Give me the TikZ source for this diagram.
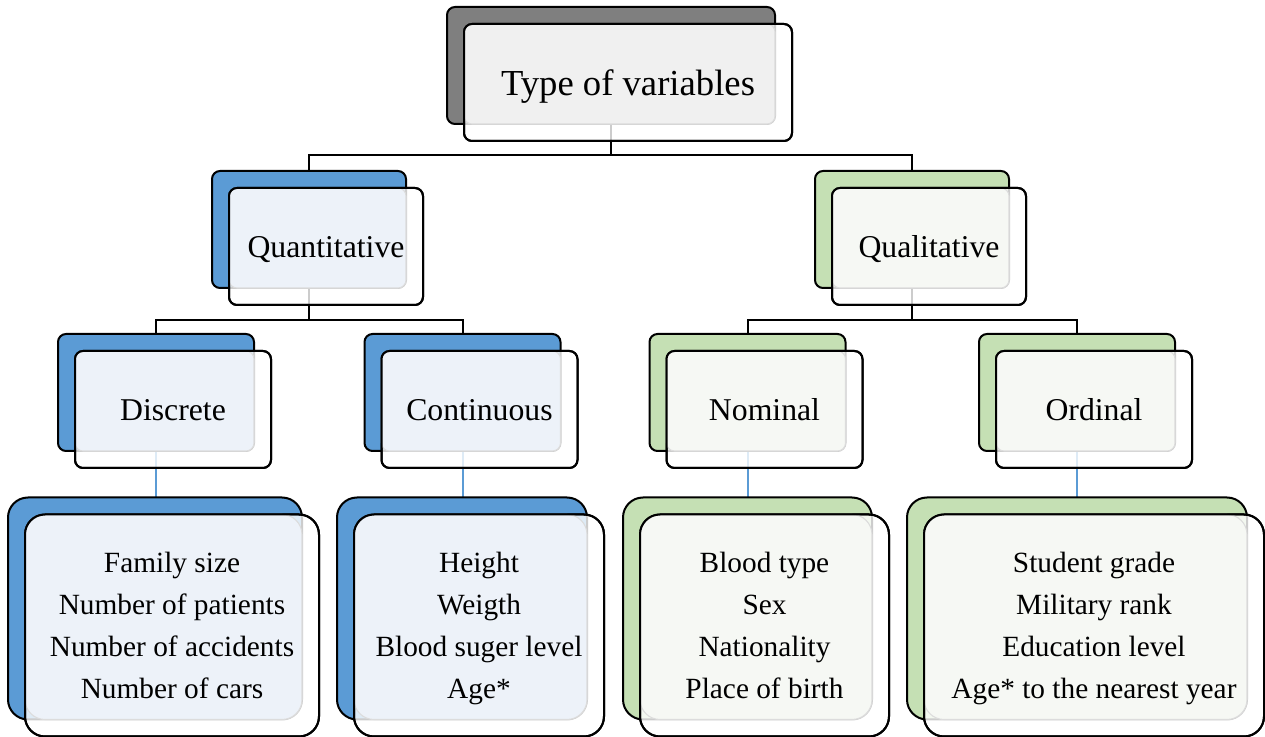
\documentclass[tikz,border=0pt]{standalone}
\usepackage{fontspec}
\setmainfont{Liberation Serif}
\definecolor{cgray}{HTML}{7F7F7F}
\definecolor{lgray}{HTML}{F0F0F0}
\definecolor{cblue}{HTML}{5B9BD5}
\definecolor{lblue}{HTML}{EDF2F9}
\definecolor{cgreen}{HTML}{C5E0B4}
\definecolor{lgreen}{HTML}{F6F8F4}
\definecolor{faint}{HTML}{DCDCDC}
\tikzset{
  boxbase/.style={draw=black, line width=1.5pt, inner sep=0pt, outer sep=0pt, rectangle},
  lvlone/.style={rounded corners=6pt, font=\fontsize{27.5}{33}\selectfont},
  lvltwo/.style={rounded corners=6pt, font=\fontsize{23.8}{28}\selectfont},
  lvlthree/.style={rounded corners=15pt, font=\fontsize{22}{31.5}\selectfont},
  tone/.style={text height=18.8pt, text depth=0pt},
  ttwo/.style={text height=16.3pt, text depth=0pt},
  conn/.style={draw=black, line width=1.5pt},
  bconn/.style={draw=cblue, line width=1.5pt},
  txt/.style={align=center, inner sep=0pt}
}
% #1 name, #2 cx, #3 cy (back box), #4 width, #5 height (px), #6 colour, #7 light colour, #8 level style
\newcommand\twobox[8]{%
  \node[boxbase, #8, fill=#6, minimum width=#4*0.75pt, minimum height=#5*0.75pt] (#1b) at (#2,#3) {};
  \node[boxbase, #8, fill=white, fill opacity=0.8, minimum width=#4*0.75pt, minimum height=#5*0.75pt] (#1) at (#2+17,#3+17) {};
  \fill[#8, fill=#7, draw=faint, line width=0.8pt] (#1.north west) rectangle (#1b.south east);
  \draw[#8, line width=1.5pt] (#1.north west) rectangle (#1.south east);
}
\begin{document}
\begin{tikzpicture}[x=0.75pt,y=-0.75pt]
\useasboundingbox (0,0) rectangle (1265,737);
\coordinate (j1) at (0,155);
\coordinate (j2) at (0,320);
% connectors (drawn first, boxes on top)
\coordinate (topc) at (611,124);
\coordinate (quanc) at (309,288);
\coordinate (qualc) at (912,288);
\coordinate (quantop) at (309,171);
\coordinate (qualtop) at (912,171);
\draw[conn] (topc) -- (topc |- j1) -| (quantop);
\draw[conn] (topc |- j1) -| (qualtop);
\draw[conn] (quanc) -- (quanc |- j2) -| (156,334);
\draw[conn] (quanc |- j2) -| (462.5,334);
\draw[conn] (qualc) -- (qualc |- j2) -| (747.5,334);
\draw[conn] (qualc |- j2) -| (1077,334);
\draw[bconn] (156,451) -- (156,497);
\draw[bconn] (462.5,451) -- (462.5,497);
\draw[bconn] (747.5,451) -- (747.5,497);
\draw[bconn] (1077,451) -- (1077,497);
% boxes
\twobox{top}{611}{65.5}{328}{117}{cgray}{lgray}{lvlone}
\node[txt, lvlone, tone] (topt) at (top) {Type of variables};
\twobox{quan}{309}{229.5}{194}{117}{cblue}{lblue}{lvltwo}
\node[txt, lvltwo, ttwo] (quant) at (quan) {Quantitative};
\twobox{qual}{912}{229.5}{194}{117}{cgreen}{lgreen}{lvltwo}
\node[txt, lvltwo, ttwo] (qualt) at (qual) {Qualitative};
\twobox{disc}{156}{392.5}{196}{117}{cblue}{lblue}{lvltwo}
\node[txt, lvltwo, ttwo] (disct) at (disc) {Discrete};
\twobox{cont}{462.5}{392.5}{196}{117}{cblue}{lblue}{lvltwo}
\node[txt, lvltwo, ttwo] (contt) at (cont) {Continuous};
\twobox{nom}{747.5}{392.5}{196}{117}{cgreen}{lgreen}{lvltwo}
\node[txt, lvltwo, ttwo] (nomt) at (nom) {Nominal};
\twobox{ord}{1077}{392.5}{196}{117}{cgreen}{lgreen}{lvltwo}
\node[txt, lvltwo, ttwo] (ordt) at (ord) {Ordinal};
\twobox{discl}{155}{608.5}{294}{222}{cblue}{lblue}{lvlthree}
\node[txt, lvlthree, yshift=-1.2pt] (disclt) at (discl) {\strut Family size\\Number of patients\\Number of accidents\\Number of cars\strut};
\twobox{contl}{462}{608.5}{250}{222}{cblue}{lblue}{lvlthree}
\node[txt, lvlthree, yshift=-1.2pt] (contlt) at (contl) {\strut Height\\Weigth\\Blood suger level\\Age*\strut};
\twobox{noml}{747.5}{608.5}{249}{222}{cgreen}{lgreen}{lvlthree}
\node[txt, lvlthree, yshift=-1.2pt] (nomlt) at (noml) {\strut Blood type\\Sex\\Nationality\\Place of birth\strut};
\twobox{ordl}{1077}{608.5}{340}{222}{cgreen}{lgreen}{lvlthree}
\node[txt, lvlthree, yshift=-1.2pt] (ordlt) at (ordl) {\strut Student grade\\Military rank\\Education level\\Age* to the nearest year\strut};
\end{tikzpicture}
\end{document}
